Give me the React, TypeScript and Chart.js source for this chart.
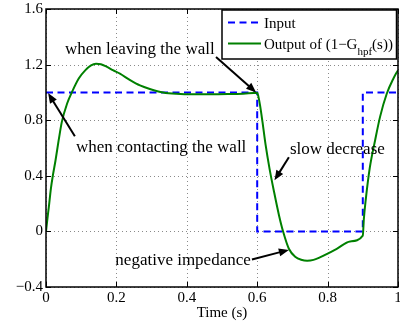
import { useEffect, useRef } from 'react';
import { Chart, registerables } from 'chart.js';

Chart.register(...registerables);

// Wall-contact input (step in / out)
const inputTime = [0, 0.6, 0.6, 0.9, 0.9, 1.0];
const inputValue = [1, 1, 0, 0, 1, 1];

// Filtered output of (1 - G_hpf(s))
const outputTime = [
  0, 0.004, 0.008, 0.014, 0.02, 0.027, 0.036, 0.045, 0.06, 0.074, 0.093, 0.112, 0.128, 0.142,
  0.156, 0.172, 0.19, 0.21, 0.239, 0.267, 0.295, 0.333, 0.37, 0.42, 0.47, 0.52, 0.56, 0.59,
  0.6, 0.603, 0.608, 0.615, 0.624, 0.635, 0.648, 0.662, 0.674, 0.69, 0.709, 0.725, 0.742,
  0.76, 0.778, 0.8, 0.826, 0.864, 0.9, 0.903, 0.908, 0.92, 0.935, 0.949, 0.968, 0.987, 1.0,
];
const outputValue = [
  0, 0.09, 0.175, 0.31, 0.41, 0.51, 0.656, 0.788, 0.92, 1.004, 1.1, 1.16, 1.195, 1.207,
  1.203, 1.185, 1.16, 1.135, 1.088, 1.05, 1.025, 1.0, 0.99, 0.986, 0.986, 0.988, 0.991, 0.995,
  0.997, 0.975, 0.908, 0.788, 0.62, 0.452, 0.283, 0.115, -0.005, -0.125, -0.185, -0.204, -0.211,
  -0.205, -0.187, -0.16, -0.125, -0.072, -0.03, 0.09, 0.22, 0.46, 0.656, 0.824, 0.99, 1.1, 1.16,
];

const xTickValues = [0, 0.2, 0.4, 0.6, 0.8, 1];
const xTickLabels = ['0', '0.2', '0.4', '0.6', '0.8', '1'];
const yTickValues = [-0.4, 0, 0.4, 0.8, 1.2, 1.6];
const yTickLabels = ['\u22120.4', '0', '0.4', '0.8', '1.2', '1.6'];

const xTitle = 'Time (s)';
const inputName = 'Input';
// legend text for the output: main part, subscript, tail
const outputNameParts = ['Output of (1\u2212G', 'hpf', '(s))'];

// Callouts in data coordinates: label anchor, arrow tail, arrow tip
const callouts = [
  { text: 'when leaving the wall', at: [0.054, 1.276], from: [0.483, 1.254], to: [0.597, 1.0] },
  { text: 'when contacting the wall', at: [0.085, 0.571], from: [0.082, 0.685], to: [0.006, 0.995] },
  { text: 'slow decrease', at: [0.693, 0.56], from: [0.69, 0.533], to: [0.649, 0.368] },
  { text: 'negative impedance', at: [0.197, -0.245], from: [0.585, -0.202], to: [0.69, -0.133] },
];

const SERIF = '"Liberation Serif", "Times New Roman", Times, serif';
const BLUE = '#0000ff';
const GREEN = '#008000';
const DASH = [7, 4.5];

function drawArrow(ctx: CanvasRenderingContext2D, x1: number, y1: number, x2: number, y2: number) {
  const ang = Math.atan2(y2 - y1, x2 - x1);
  const len = 10;
  const hw = 4;
  const c = Math.cos(ang);
  const s = Math.sin(ang);
  const bx = x2 - len * c;
  const by = y2 - len * s;
  ctx.beginPath();
  ctx.moveTo(x1, y1);
  ctx.lineTo(bx + c, by + s);
  ctx.stroke();
  ctx.beginPath();
  ctx.moveTo(x2, y2);
  ctx.lineTo(bx + hw * s, by - hw * c);
  ctx.lineTo(bx - hw * s, by + hw * c);
  ctx.closePath();
  ctx.fill();
}

const figurePlugin = {
  id: 'figure',
  beforeDraw(chart: any) {
    const ctx = chart.ctx as CanvasRenderingContext2D;
    ctx.save();
    ctx.fillStyle = '#ffffff';
    ctx.fillRect(0, 0, chart.width, chart.height);
    ctx.restore();
  },
  beforeDatasetsDraw(chart: any) {
    const ctx = chart.ctx as CanvasRenderingContext2D;
    const { left, right, top, bottom } = chart.chartArea;
    const xs = chart.scales.x;
    const ys = chart.scales.y;
    ctx.save();
    ctx.strokeStyle = '#8a8a8a';
    ctx.lineWidth = 1;
    ctx.setLineDash([1, 3]);
    xs.ticks.forEach((t: any) => {
      const px = Math.round(xs.getPixelForValue(t.value)) + 0.5;
      ctx.beginPath();
      ctx.moveTo(px, top);
      ctx.lineTo(px, bottom);
      ctx.stroke();
    });
    ys.ticks.forEach((t: any) => {
      const py = Math.round(ys.getPixelForValue(t.value)) + 0.5;
      ctx.beginPath();
      ctx.moveTo(left, py);
      ctx.lineTo(right, py);
      ctx.stroke();
    });
    ctx.restore();
  },
  afterDatasetsDraw(chart: any) {
    const ctx = chart.ctx as CanvasRenderingContext2D;
    const { left, right, top, bottom } = chart.chartArea;
    const xs = chart.scales.x;
    const ys = chart.scales.y;
    const px = (v: number) => xs.getPixelForValue(v);
    const py = (v: number) => ys.getPixelForValue(v);

    ctx.save();
    // axes box with inward ticks
    ctx.strokeStyle = '#000';
    ctx.lineWidth = 1.5;
    ctx.setLineDash([]);
    ctx.strokeRect(left, top, right - left, bottom - top);
    ctx.lineWidth = 1;
    const tl = 5;
    xs.ticks.forEach((t: any) => {
      const x = Math.round(px(t.value)) + 0.5;
      ctx.beginPath();
      ctx.moveTo(x, bottom);
      ctx.lineTo(x, bottom - tl);
      ctx.moveTo(x, top);
      ctx.lineTo(x, top + tl);
      ctx.stroke();
    });
    ys.ticks.forEach((t: any) => {
      const y = Math.round(py(t.value)) + 0.5;
      ctx.beginPath();
      ctx.moveTo(left, y);
      ctx.lineTo(left + tl, y);
      ctx.moveTo(right, y);
      ctx.lineTo(right - tl, y);
      ctx.stroke();
    });

    // callouts
    ctx.fillStyle = '#000';
    ctx.strokeStyle = '#000';
    ctx.lineWidth = 2;
    ctx.font = `17px ${SERIF}`;
    ctx.textAlign = 'left';
    ctx.textBaseline = 'alphabetic';
    callouts.forEach((c) => {
      ctx.fillText(c.text, px(c.at[0]), py(c.at[1]));
      drawArrow(ctx, px(c.from[0]), py(c.from[1]), px(c.to[0]), py(c.to[1]));
    });

    // legend
    const lx = 222;
    const ly = 10;
    const lw = 174.5;
    const lh = 49;
    ctx.fillStyle = '#fff';
    ctx.fillRect(lx, ly, lw, lh);
    ctx.strokeStyle = '#000';
    ctx.lineWidth = 1.5;
    ctx.strokeRect(lx, ly, lw, lh);

    const sx0 = lx + 6;
    const sx1 = lx + 39;
    const tx = lx + 42;
    const row1 = ly + 12.5;
    const row2 = ly + 33.5;
    ctx.lineWidth = 2;
    ctx.strokeStyle = BLUE;
    ctx.setLineDash(DASH);
    ctx.beginPath();
    ctx.moveTo(sx0, row1);
    ctx.lineTo(sx1, row1);
    ctx.stroke();
    ctx.setLineDash([]);
    ctx.strokeStyle = GREEN;
    ctx.beginPath();
    ctx.moveTo(sx0, row2);
    ctx.lineTo(sx1, row2);
    ctx.stroke();

    ctx.fillStyle = '#000';
    ctx.font = `15px ${SERIF}`;
    ctx.fillText(inputName, tx, row1 + 5);
    let x = tx;
    ctx.fillText(outputNameParts[0], x, row2 + 5);
    x += ctx.measureText(outputNameParts[0]).width;
    ctx.font = `11px ${SERIF}`;
    ctx.fillText(outputNameParts[1], x, row2 + 11);
    x += ctx.measureText(outputNameParts[1]).width;
    ctx.font = `15px ${SERIF}`;
    ctx.fillText(outputNameParts[2], x, row2 + 5);
    ctx.restore();
  },
};

export default function App() {
  const canvasRef = useRef<HTMLCanvasElement | null>(null);

  useEffect(() => {
    document.body.style.margin = '0';
    document.body.style.overflow = 'hidden';
    const canvas = canvasRef.current;
    if (!canvas) return;

    const tickFont = { family: SERIF, size: 15 };

    const chart = new Chart(canvas, {
      type: 'scatter',
      data: {
        datasets: [
          {
            label: 'Output',
            data: outputTime.map((t, i) => ({ x: t, y: outputValue[i] })),
            showLine: true,
            borderColor: GREEN,
            backgroundColor: GREEN,
            borderWidth: 2,
            pointRadius: 0,
            cubicInterpolationMode: 'monotone',
            fill: false,
          },
          {
            label: inputName,
            data: inputTime.map((t, i) => ({ x: t, y: inputValue[i] })),
            showLine: true,
            borderColor: BLUE,
            backgroundColor: BLUE,
            borderWidth: 2,
            borderDash: DASH,
            pointRadius: 0,
            tension: 0,
            fill: false,
          },
        ],
      },
      options: {
        responsive: false,
        animation: false,
        devicePixelRatio: 1,
        events: [],
        layout: { padding: { top: 9, right: 2, left: 0, bottom: 0 } },
        plugins: {
          legend: { display: false },
          tooltip: { enabled: false },
        },
        scales: {
          x: {
            type: 'linear',
            min: 0,
            max: 1,
            afterBuildTicks: (scale: any) => {
              scale.ticks = xTickValues.map((v) => ({ value: v }));
            },
            afterFit: (scale: any) => {
              scale.height = 37;
              scale.paddingLeft = 0;
              scale.paddingRight = 0;
            },
            ticks: {
              callback: (_v: any, i: number) => xTickLabels[i],
              font: tickFont,
              color: '#000',
              padding: 2,
              maxRotation: 0,
              autoSkip: false,
            },
            grid: { display: false, drawTicks: false },
            border: { display: false },
            title: {
              display: true,
              text: xTitle,
              font: tickFont,
              color: '#000',
              padding: { top: 0, bottom: 2 },
            },
          },
          y: {
            type: 'linear',
            min: -0.4,
            max: 1.6,
            afterBuildTicks: (scale: any) => {
              scale.ticks = yTickValues.map((v) => ({ value: v }));
            },
            afterFit: (scale: any) => {
              scale.width = 46;
              scale.paddingTop = 0;
              scale.paddingBottom = 0;
            },
            ticks: {
              callback: (_v: any, i: number) => yTickLabels[i],
              font: tickFont,
              color: '#000',
              padding: 3,
              autoSkip: false,
            },
            grid: { display: false, drawTicks: false },
            border: { display: false },
          },
        },
      } as any,
      plugins: [figurePlugin],
    });

    return () => {
      chart.destroy();
    };
  }, []);

  return (
    <div style={{ width: 400, height: 324 }}>
      <canvas ref={canvasRef} width={400} height={324} style={{ display: 'block' }} />
    </div>
  );
}
